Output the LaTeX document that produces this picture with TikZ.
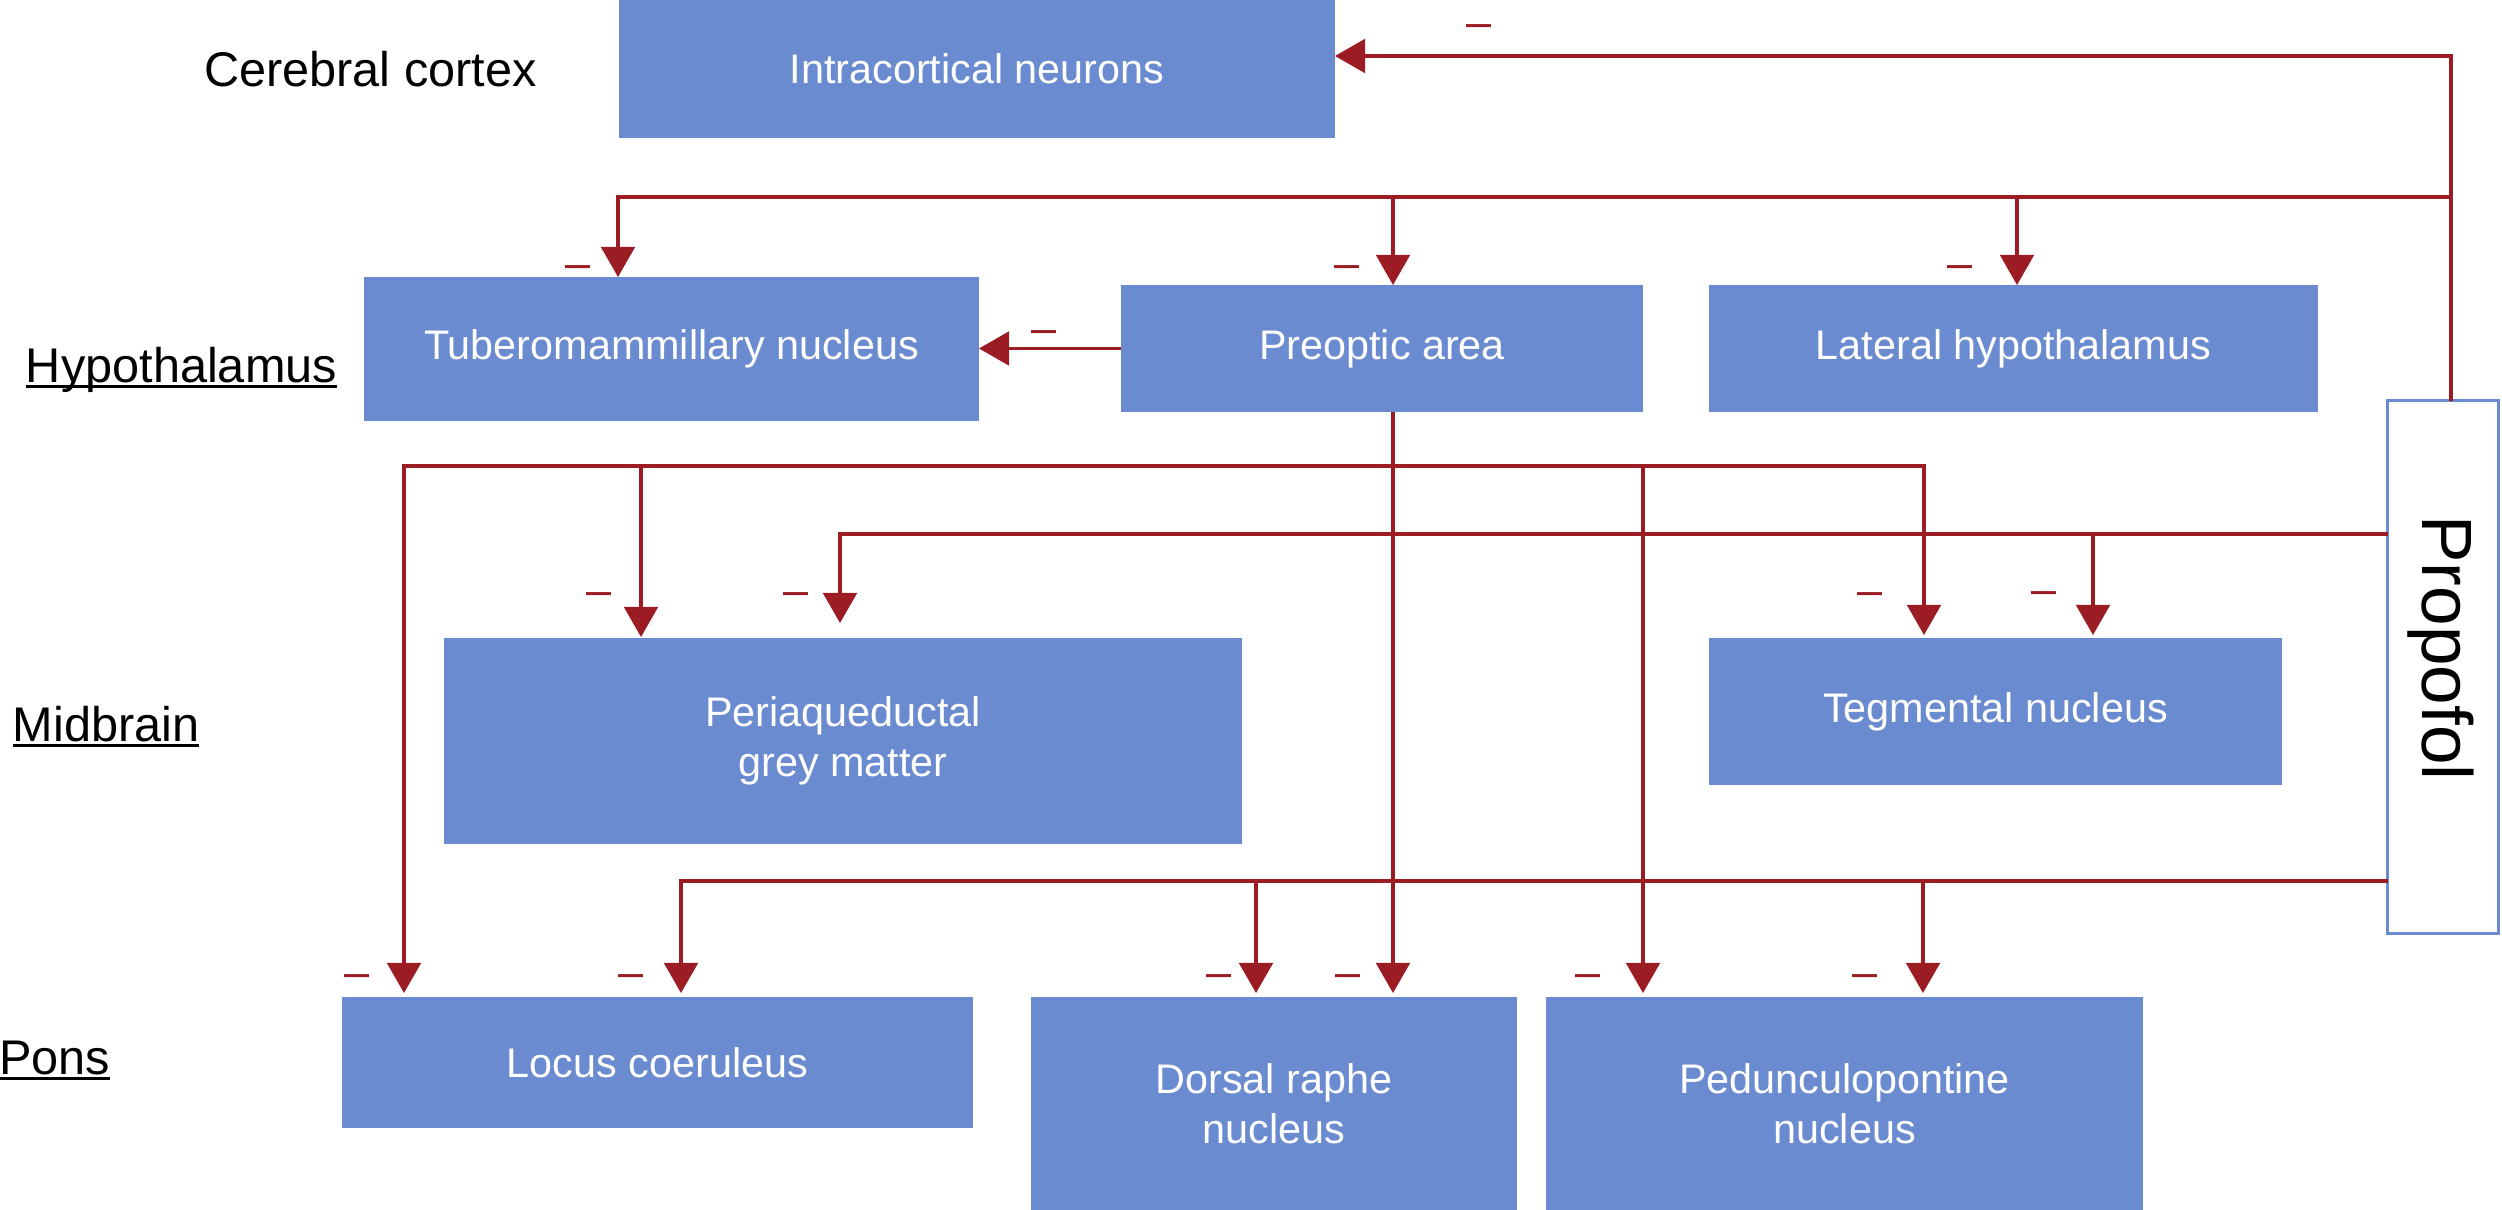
\documentclass[tikz,border=0pt]{standalone}
\usepackage{fontspec}
\setmainfont{Liberation Sans}
\usetikzlibrary{arrows.meta,calc}
\definecolor{boxblue}{RGB}{107,139,208}
\definecolor{linered}{RGB}{156,28,36}
\newcommand{\ulab}[1]{\sbox0{#1}\rlap{\rule[-2.2pt]{\wd0}{1pt}}\usebox0}
\begin{document}
\begin{tikzpicture}[x=0.0125cm, y=-0.0125cm,
  box/.style={fill=boxblue, text=white, inner sep=0pt, outer sep=0pt, align=center,
    font=\fontsize{14.7}{17.6}\selectfont},
  bsz/.style 2 args={minimum width={#1*0.0125cm}, minimum height={#2*0.0125cm}},
  lab/.style={anchor=base, inner sep=0pt, font=\fontsize{17.3}{20}\selectfont},
  negmark/.style={anchor=base, inner sep=0pt, text=linered, font=\fontsize{16}{18}\selectfont},
  ln/.style={draw=linered, line width=1.1pt},
  arr/.style={ln, -{Triangle[length=0.375cm, width=0.42cm]}}]
\useasboundingbox (0,0) rectangle (2502,1210);

% boxes
\node[box,bsz={716}{138}] (ic) at (977,69) {Intracortical neurons};
\node[box,bsz={615}{144}] (tub) at (671.5,349) {Tuberomammillary nucleus};
\node[box,bsz={522}{127}] (pre) at (1382,348.5) {Preoptic area};
\node[box,bsz={609}{127}] (lat) at (2013.5,348.5) {Lateral hypothalamus};
\node[box,bsz={798}{206}] (pag) at (843,741) {Periaqueductal\\grey matter};
\node[box,bsz={573}{147}] (teg) at (1995.5,711.5) {Tegmental nucleus};
\node[box,bsz={631}{131}] (lc) at (657.5,1062.5) {Locus coeruleus};
\node[box,bsz={486}{213}] (dr) at (1274,1103.5) {Dorsal raphe\\nucleus};
\node[box,bsz={597}{213}] (ppn) at (1844.5,1103.5) {Pedunculopontine\\nucleus};
\node[draw=boxblue, line width=1.1pt, fill=white, inner sep=0pt, outer sep=0pt, bsz={111}{533}] (prop) at (2443,667) {};
\node[rotate=-90, inner sep=0pt, font=\fontsize{25.3}{30}\selectfont] (proptxt) at (2441,648) {Propofol};

% region labels
\node[lab] (lcc) at (370.5,87) {Cerebral cortex};
\node[lab] (lhy) at (181.5,382) {\ulab{Hypothalamus}};
\node[lab] (lmb) at (106,741) {\ulab{Midbrain}};
\node[lab] (lpo) at (54.5,1074) {\ulab{Pons}};

% propofol to cortex and hypothalamus
\coordinate (pt) at (2451,56);
\coordinate (hb) at (2451,197);
\draw[arr] (prop.north -| pt) -- (pt) -- (pt -| ic.east);
\draw[arr] (hb) -| ($(tub.north)+(-53.5,0)$);
\coordinate (tpre) at ($(pre.north)+(11,0)$);
\coordinate (tlat) at ($(lat.north)+(3.5,0)$);
\draw[arr] (tpre |- hb) -- (tpre);
\draw[arr] (tlat |- hb) -- (tlat);
\draw[arr] (pre.west) -- (pre.west -| tub.east);

% preoptic area projections
\coordinate (tdr2) at ($(dr.north)+(119,-4)$);
\draw[arr] (tdr2 |- pre.south) -- (tdr2);
\coordinate (mb) at (1393,466);
\draw[arr] (mb) -| ($(lc.north)+(-253.5,-4)$);
\draw[arr] (mb) -| ($(pag.north)+(-202,-1)$);
\draw[arr] (mb) -| ($(teg.north)+(-71.5,-3)$);
\draw[arr] (mb) -| ($(ppn.north)+(-201.5,-4)$);

% propofol to midbrain
\coordinate (pm) at ($(prop.west)+(0,-133)$);
\draw[arr] (pm) -| ($(pag.north)+(-3,-15)$);
\coordinate (tteg2) at ($(teg.north)+(97.5,-3)$);
\draw[arr] (tteg2 |- pm) -- (tteg2);

% propofol to pons
\coordinate (pl) at ($(prop.west)+(0,214)$);
\draw[arr] (pl) -| ($(lc.north)+(23.5,-4)$);
\coordinate (tdr1) at ($(dr.north)+(-18,-4)$);
\draw[arr] (tdr1 |- pl) -- (tdr1);
\coordinate (tppn2) at ($(ppn.north)+(78.5,-4)$);
\draw[arr] (tppn2 |- pl) -- (tppn2);

% inhibition marks
\foreach \mx/\my [count=\i] in {1478.5/38, 578/278.5, 1347/278.5, 1960/278.5, 1044/343.5,
  599/605.5, 796.5/605.5, 1869.5/605.5, 2043.5/604.5,
  357.5/987.5, 631/987.5, 1218.5/987.5, 1347.5/987.5, 1587.5/987.5, 1864.5/987.5}
  \node[negmark] (m\i) at (\mx,\my) {–};
\end{tikzpicture}
\end{document}
